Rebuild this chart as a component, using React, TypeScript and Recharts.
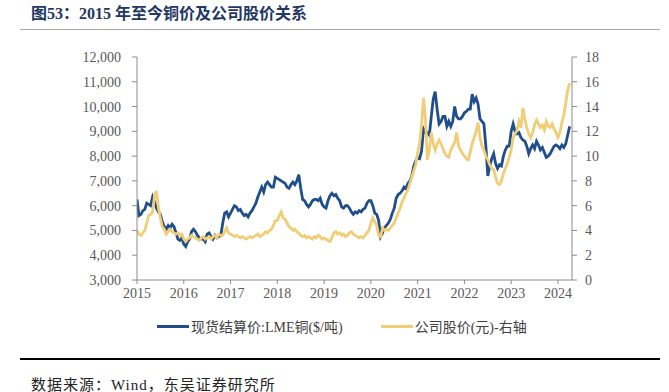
import React from 'react';
import { LineChart, Line, XAxis, YAxis } from 'recharts';

const YEAR_TICKS = [2015, 2016, 2017, 2018, 2019, 2020, 2021, 2022, 2023, 2024];
const LEFT_TICKS = [3000, 4000, 5000, 6000, 7000, 8000, 9000, 10000, 11000, 12000];
const RIGHT_TICKS = [0, 2, 4, 6, 8, 10, 12, 14, 16, 18];

// semi-monthly readings, starting Jan 2015
const COPPER = [
  6250, 5600, 5650, 5800, 5850, 6100, 6050, 6000, 6350, 6150, 5900, 5750, 5650, 5350, 5150, 5050, 5200, 5100, 5250, 5150, 4900, 4650, 4600, 4700,
  4450, 4350, 4550, 4650, 4950, 5050, 4950, 4800, 4700, 4650, 4650, 4550, 4850, 4900, 4750, 4650, 4800, 4700, 4750, 4800, 5300, 5700, 5750, 5550,
  5700, 5850, 6000, 5950, 5800, 5850, 5700, 5600, 5650, 5550, 5700, 5800, 5950, 6100, 6350, 6550, 6750, 6550, 6850, 6950, 6850, 6750, 6750, 7150,
  7100, 7050, 7000, 6950, 6900, 6750, 6700, 6850, 6950, 6850, 7000, 7250, 6700, 6250, 6200, 6050, 5950, 6050, 6200, 6250, 6250, 6200, 6300, 6050,
  5950, 5900, 6200, 6400, 6500, 6400, 6450, 6300, 6200, 5950, 5900, 6000, 6000, 5900, 5750, 5650, 5750, 5700, 5800, 5750, 5850, 5900, 6100, 6200,
  6200, 6000, 5700, 5650, 5400, 4750, 4900, 5100, 5200, 5300, 5450, 5700, 5900, 6300, 6450, 6500, 6600, 6750, 6700, 6900, 7000, 7200, 7600, 7800,
  7950, 7900, 8200, 9100, 8950, 8950, 8850, 9600, 10300, 10600, 9900, 9300, 9400, 9600, 9600, 9200, 9400, 9200, 9400, 10000, 9600, 9500, 9500, 9600,
  9750, 9800, 9900, 9900, 10500, 10200, 10350, 10100, 9500, 9400, 9300, 8400, 7200, 7600, 7900, 8100, 7700, 7500, 7650, 7600, 8000, 8250, 8400, 8400,
  9000, 9300, 9000, 8900, 8950, 8750, 8650, 8600, 8400, 8100, 8300, 8450, 8300, 8600, 8450, 8250, 8350, 8150, 7950, 8000, 8100, 8250, 8400, 8450,
  8400, 8300, 8450, 8350, 8500, 8850, 9200,
];

const STOCK = [
  4.0, 3.7, 3.6, 3.8, 4.0, 4.6, 5.2, 5.3, 5.5, 6.8, 7.2, 5.8, 5.0, 4.3, 4.1, 3.7, 3.9, 4.1, 3.9, 3.8, 3.7, 3.8, 3.6, 3.7,
  3.3, 3.1, 3.3, 3.4, 3.6, 3.5, 3.4, 3.3, 3.2, 3.4, 3.5, 3.3, 3.4, 3.5, 3.3, 3.5, 3.6, 3.4, 3.7, 3.6, 3.6, 3.9, 4.2, 3.8,
  3.7, 3.6, 3.5, 3.6, 3.5, 3.4, 3.5, 3.4, 3.3, 3.4, 3.5, 3.4, 3.5, 3.6, 3.7, 3.5, 3.6, 3.7, 3.9, 3.8, 4.0, 4.1, 4.4, 4.8,
  4.8, 5.2, 5.5, 5.0, 4.9, 4.6, 4.3, 4.2, 4.0, 4.1, 3.9, 3.8, 3.6, 3.5, 3.6, 3.4, 3.5, 3.4, 3.3, 3.5, 3.4, 3.6, 3.5, 3.3,
  3.4, 3.3, 3.2, 3.1, 3.4, 3.8, 3.9, 3.7, 3.8, 3.6, 3.7, 3.5, 3.6, 3.8, 3.9, 3.7, 3.6, 3.5, 3.4, 3.5, 3.4, 3.6, 3.8, 4.0,
  4.6, 5.0, 4.7, 4.4, 3.6, 3.5, 4.2, 4.0, 4.1, 4.0, 4.2, 4.4, 4.6, 5.0, 5.4, 5.8, 6.3, 6.6, 7.0, 7.3, 7.8, 8.3, 8.8, 9.3,
  10.3, 11.0, 12.5, 14.7, 13.0, 9.7, 10.5, 11.9, 11.0, 10.5, 11.0, 11.3, 11.0, 10.6, 10.2, 10.0, 9.9, 10.5, 10.8, 11.1, 11.9, 10.8, 10.5, 10.2,
  10.0, 9.8, 9.7, 10.3, 11.0, 11.5, 12.0, 12.7, 11.5, 10.8, 10.5, 10.0, 9.7, 9.3, 9.0, 8.9, 8.3, 7.8, 7.7, 8.0, 8.6, 9.0, 9.4, 9.9,
  10.5, 11.5, 11.8, 12.1, 12.8, 12.3, 13.9, 13.0, 12.3, 11.8, 11.5, 11.9, 12.5, 12.9, 12.6, 12.3, 12.5, 12.1, 12.8, 12.4, 12.3, 12.6, 12.2, 11.9,
  11.5, 11.9, 12.7, 13.3, 14.3, 15.3, 15.9,
];

const START_YEAR = 2015;
const data = COPPER.map((c, i) => ({ t: START_YEAR + i / 24, copper: c, stock: STOCK[i] }));

const BLUE = '#1F4E8A';
const GOLD = '#F0CD76';
const AXIS = '#8C8C8C';
const TICK = '#595959';
const SERIF = '"Times New Roman", "Liberation Serif", "Noto Sans CJK SC", serif';
const tickStyle = { fill: TICK, fontSize: 14, fontFamily: SERIF };

export default function App() {
  return (
    <div style={{ position: 'absolute', left: 0, top: 0, width: 669, height: 392, background: '#fff', fontFamily: SERIF }}>
      <div style={{ position: 'absolute', left: 31, top: 4, fontSize: 16, fontWeight: 'bold', color: '#1F3864', lineHeight: '20px', whiteSpace: 'nowrap' }}>
        图53：2015 年至今铜价及公司股价关系
      </div>
      <div style={{ position: 'absolute', left: 20, top: 29, width: 640, height: 1, background: '#A6A6A6' }} />
      <LineChart width={669} height={392} data={data} margin={{ top: 57, right: 0, bottom: 82, left: 0 }}>
        <XAxis
          dataKey="t"
          type="number"
          domain={[2015, 2024.3]}
          ticks={YEAR_TICKS}
          interval={0}
          height={30}
          tickSize={4}
          tickMargin={4}
          tick={tickStyle}
          stroke={AXIS}
          axisLine={{ stroke: AXIS }}
          tickLine={{ stroke: AXIS }}
          allowDataOverflow
        />
        <YAxis
          yAxisId="L"
          orientation="left"
          width={137}
          domain={[3000, 12000]}
          ticks={LEFT_TICKS}
          interval={0}
          tickSize={5}
          tickMargin={11}
          tickFormatter={(v: number) => v.toLocaleString('en-US')}
          tick={tickStyle}
          axisLine={{ stroke: AXIS }}
          tickLine={{ stroke: AXIS }}
        />
        <YAxis
          yAxisId="R"
          orientation="right"
          width={97}
          domain={[0, 18]}
          ticks={RIGHT_TICKS}
          interval={0}
          tickSize={5}
          tickMargin={8}
          tick={tickStyle}
          axisLine={{ stroke: AXIS }}
          tickLine={{ stroke: AXIS }}
        />
        <Line yAxisId="L" type="linear" dataKey="copper" stroke={BLUE} strokeWidth={2.8} dot={false} isAnimationActive={false} />
        <Line yAxisId="R" type="linear" dataKey="stock" stroke={GOLD} strokeWidth={2.8} dot={false} isAnimationActive={false} />
      </LineChart>
      <div style={{ position: 'absolute', top: 316, left: 157, display: 'flex', alignItems: 'center', fontSize: 14, color: '#404040', whiteSpace: 'nowrap' }}>
        <span style={{ display: 'inline-block', width: 32, height: 3, background: BLUE, marginRight: 2 }} />
        <span>现货结算价:LME铜($/吨)</span>
        <span style={{ display: 'inline-block', width: 32, height: 3, background: GOLD, marginLeft: 38, marginRight: 2 }} />
        <span>公司股价(元)-右轴</span>
      </div>
      <div style={{ position: 'absolute', left: 20, top: 358, width: 640, height: 1.5, background: '#000' }} />
      <div style={{ position: 'absolute', left: 31, top: 373, fontSize: 15, letterSpacing: 1, color: '#222', whiteSpace: 'nowrap' }}>
        数据来源：Wind，东吴证券研究所
      </div>
    </div>
  );
}
